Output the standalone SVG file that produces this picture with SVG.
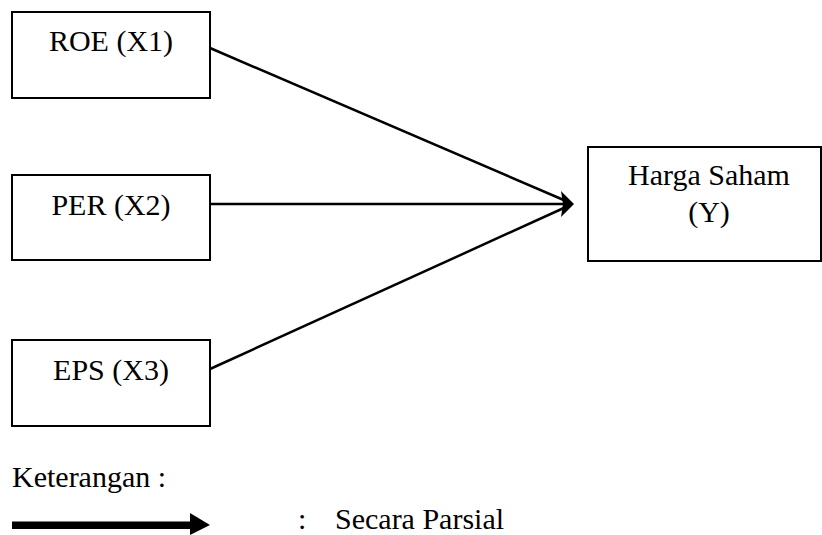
<svg xmlns="http://www.w3.org/2000/svg" width="822" height="535" viewBox="0 0 822 535">
<style>
.box{fill:#fff;stroke:#000;stroke-width:2}
.t{font-family:'Liberation Serif','DejaVu Serif','Times New Roman',serif;font-size:30px;fill:#000}
.c{text-anchor:middle}
.ln{stroke:#000;stroke-width:2.5;fill:none}
</style>
<rect width="822" height="535" fill="#fff"/>
<g id="roe"><rect class="box" x="12" y="12" width="198" height="86"/><text class="t c" x="111" y="51">ROE (X1)</text></g>
<g id="per"><rect class="box" x="12" y="175" width="198" height="85"/><text class="t c" x="111" y="215">PER (X2)</text></g>
<g id="eps"><rect class="box" x="12" y="340" width="198" height="86"/><text class="t c" x="111" y="380">EPS (X3)</text></g>
<g id="harga"><rect class="box" x="588" y="147" width="233" height="114"/><text class="t c" x="709" y="185">Harga Saham</text><text class="t c" x="709" y="222">(Y)</text></g>
<g id="connectors">
<line class="ln" x1="210" y1="48" x2="566" y2="201"/>
<line class="ln" x1="210" y1="204" x2="566" y2="204"/>
<line class="ln" x1="210" y1="369" x2="566" y2="207"/>
<path d="M574,204 L561,191 L563,204 L561,217 Z" fill="#000"/>
</g>
<g id="legend">
<text class="t" x="12" y="487">Keterangan :</text>
<rect x="12" y="521.5" width="180" height="7.5" fill="#000"/>
<path d="M190,513 L210,525 L190,535 Z" fill="#000"/>
<text class="t" x="298" y="529">:</text>
<text class="t" x="335" y="529">Secara Parsial</text>
</g>
</svg>
